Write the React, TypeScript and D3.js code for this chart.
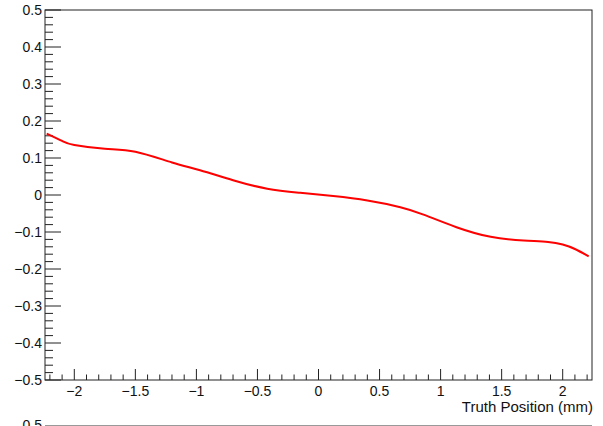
import React from "react";
import * as d3 from "d3";

// Residual curve vs. truth position
const positions = [-2.226, -2.1, -2.0, -1.75, -1.5, -1.2, -0.97, -0.7, -0.42, -0.15, 0.12, 0.4, 0.67, 0.86, 1.13, 1.41, 1.68, 1.88, 2.0, 2.1, 2.213];
const residuals = [0.166, 0.146, 0.135, 0.125, 0.117, 0.088, 0.067, 0.04, 0.017, 0.006, -0.003, -0.015, -0.033, -0.053, -0.087, -0.113, -0.123, -0.127, -0.134, -0.146, -0.166];

const xMajorTicks = [-2, -1.5, -1, -0.5, 0, 0.5, 1, 1.5, 2];
const yMajorTicks = [0.5, 0.4, 0.3, 0.2, 0.1, 0, -0.1, -0.2, -0.3, -0.4, -0.5];
const xTitle = "Truth Position (mm)";

const W = 603;
const H = 426;
const left = 45;
const right = 592;
const top = 10;
const bottom = 380;

const fmt = (v: number) => {
  const s = d3.format("")(Math.round(v * 100) / 100);
  return s.replace("-", "\u2212");
};

export default function App() {
  const x = d3.scaleLinear().domain([-2.24, 2.24]).range([left, right]);
  const y = d3.scaleLinear().domain([-0.5, 0.5]).range([bottom, top]);

  const xMinor = d3.range(-22, 23).map((i) => i / 10).filter((v) => Math.abs(v * 2 - Math.round(v * 2)) > 1e-6);
  const yMinor = d3.range(-25, 26).map((i) => i / 50).filter((v) => Math.abs(v * 10 - Math.round(v * 10)) > 1e-6);

  const pts: [number, number][] = positions.map((p, i) => [p, residuals[i]]);
  const line = d3
    .line<[number, number]>()
    .x((d) => x(d[0]))
    .y((d) => y(d[1]))
    .curve(d3.curveNatural);

  const font = "Liberation Sans, Arial, Helvetica, sans-serif";

  return (
    <svg
      width={W}
      height={H}
      style={{ position: "absolute", left: 0, top: 0, background: "#fff" }}
      fontFamily={font}
    >
      <rect x={0} y={0} width={W} height={H} fill="#fff" />
      {/* frame */}
      <rect x={left} y={top} width={right - left} height={bottom - top} fill="none" stroke="#222" strokeWidth={1} />

      {/* y axis ticks */}
      {yMinor.map((v) => (
        <line key={"ym" + v} x1={left} x2={left + 8} y1={y(v)} y2={y(v)} stroke="#222" strokeWidth={1} />
      ))}
      {yMajorTicks.map((v) => (
        <g key={"yM" + v}>
          <line x1={left} x2={left + 16} y1={y(v)} y2={y(v)} stroke="#222" strokeWidth={1} />
          <text x={42} y={y(v)} dy="0.35em" textAnchor="end" fontSize={14} fill="#111">
            {fmt(v)}
          </text>
        </g>
      ))}

      {/* x axis ticks */}
      {xMinor.map((v) => (
        <line key={"xm" + v} x1={x(v)} x2={x(v)} y1={bottom} y2={bottom - 5.5} stroke="#222" strokeWidth={1} />
      ))}
      {xMajorTicks.map((v) => (
        <g key={"xM" + v}>
          <line x1={x(v)} x2={x(v)} y1={bottom} y2={bottom - 11} stroke="#222" strokeWidth={1} />
          <text x={x(v)} y={396} textAnchor="middle" fontSize={14} fill="#111">
            {fmt(v)}
          </text>
        </g>
      ))}

      <text x={593} y={412} textAnchor="end" fontSize={15} fill="#111">
        {xTitle}
      </text>

      {/* curve */}
      <path d={line(pts) ?? ""} fill="none" stroke="#ff0000" strokeWidth={2} />

      {/* top edge of the next pad, partly visible */}
      <line x1={left} x2={right} y1={425.5} y2={425.5} stroke="#999" strokeWidth={1} />
      <text x={42} y={425} dy="0.35em" textAnchor="end" fontSize={14} fill="#111">
        {fmt(0.5)}
      </text>
    </svg>
  );
}
